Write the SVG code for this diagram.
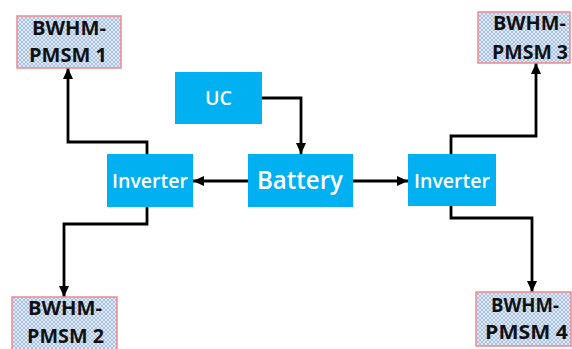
<svg xmlns="http://www.w3.org/2000/svg" width="572" height="349" viewBox="0 0 572 349">
<style>
.motor{fill:url(#hatch);stroke:#f08a8a;stroke-width:1.5}
.blk{fill:#00b0f0}
.mt{font-family:"Open Sans","Liberation Sans",sans-serif;font-weight:700;font-size:19px;fill:#111;text-anchor:middle}
.wt{font-family:"Open Sans","Liberation Sans",sans-serif;font-weight:600;fill:#fff;text-anchor:middle}
.ln{fill:none;stroke:#000;stroke-width:2.8;stroke-linejoin:miter}
</style>
<defs>
<pattern id="hatch" width="4" height="4" patternUnits="userSpaceOnUse">
<rect width="4" height="4" fill="#e0eaf8"/>
<path d="M0,4 L4,0 M0,0 L4,4" stroke="#9fbbe6" stroke-width="0.9"/>
</pattern>
<marker id="ah" markerUnits="userSpaceOnUse" markerWidth="12" markerHeight="10" refX="11" refY="5" orient="auto">
<path d="M0,0 L11,5 L0,10 z" fill="#000"/>
</marker>
</defs>
<g id="connectors">
<polyline class="ln" points="262,98 301,98 301,154" marker-end="url(#ah)"/>
<line class="ln" x1="248" y1="181" x2="193" y2="181" marker-end="url(#ah)"/>
<line class="ln" x1="353" y1="181" x2="408" y2="181" marker-end="url(#ah)"/>
<polyline class="ln" points="147,154 147,142 68,142 68,68" marker-end="url(#ah)"/>
<polyline class="ln" points="147,207 147,224 64,224 64,297" marker-end="url(#ah)"/>
<polyline class="ln" points="451,154 451,136 536,136 536,63" marker-end="url(#ah)"/>
<polyline class="ln" points="451,206 451,218 532,218 532,292" marker-end="url(#ah)"/>
</g>
<g id="uc"><rect class="blk" x="175" y="72" width="87" height="52"/><text class="wt" x="218.5" y="105" font-size="20" textLength="27" lengthAdjust="spacingAndGlyphs">UC</text></g>
<g id="battery"><rect class="blk" x="248" y="154" width="105" height="53"/><text class="wt" x="300" y="189" font-size="25" textLength="86" lengthAdjust="spacingAndGlyphs">Battery</text></g>
<g id="inverter-left"><rect class="blk" x="107" y="154" width="86" height="53"/><text class="wt" x="150" y="188" font-size="20" textLength="76" lengthAdjust="spacingAndGlyphs">Inverter</text></g>
<g id="inverter-right"><rect class="blk" x="408" y="154" width="88" height="52"/><text class="wt" x="452" y="188" font-size="20" textLength="76" lengthAdjust="spacingAndGlyphs">Inverter</text></g>
<g id="pmsm1"><rect class="motor" x="17" y="16" width="104" height="52"/><text class="mt" x="69" y="35" textLength="74" lengthAdjust="spacingAndGlyphs">BWHM-</text><text class="mt" x="68" y="62" textLength="78" lengthAdjust="spacingAndGlyphs">PMSM 1</text></g>
<g id="pmsm2"><rect class="motor" x="12" y="297" width="105" height="56"/><text class="mt" x="65" y="315" textLength="74" lengthAdjust="spacingAndGlyphs">BWHM-</text><text class="mt" x="65.5" y="343" textLength="77" lengthAdjust="spacingAndGlyphs">PMSM 2</text></g>
<g id="pmsm3"><rect class="motor" x="478" y="12" width="92" height="51"/><text class="mt" x="529.5" y="30" textLength="73" lengthAdjust="spacingAndGlyphs">BWHM-</text><text class="mt" x="530" y="59" textLength="76" lengthAdjust="spacingAndGlyphs">PMSM 3</text></g>
<g id="pmsm4"><rect class="motor" x="476" y="292" width="95" height="54"/><text class="mt" x="525" y="312" textLength="68" lengthAdjust="spacingAndGlyphs">BWHM-</text><text class="mt" x="526.5" y="339" textLength="83" lengthAdjust="spacingAndGlyphs">PMSM 4</text></g>
</svg>
